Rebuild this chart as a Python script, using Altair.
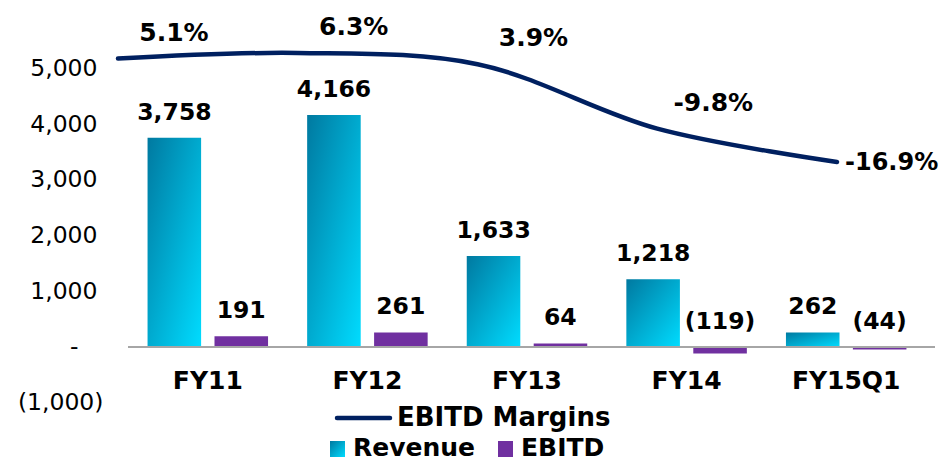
import altair as alt
import pandas as pd

# ---- data ----
categories = ["FY11", "FY12", "FY13", "FY14", "FY15Q1"]
revenue = [3758, 4166, 1633, 1218, 262]
ebitd = [191, 261, 64, -119, -44]
ebitd_margin = [5.1, 6.3, 3.9, -9.8, -16.9]
y_ticks = [-1000, 0, 1000, 2000, 3000, 4000, 5000]
series_names = ["Revenue", "EBITD"]
legend_line_label = "EBITD Margins"

# ---- styles ----
FONT = "DejaVu Sans"
NAVY = "#002060"
PURPLE = "#7030A0"
GRAD = {
    "gradient": "linear", "x1": 0, "y1": 0, "x2": 1, "y2": 1,
    "stops": [{"offset": 0, "color": "#0079A0"}, {"offset": 1, "color": "#00DCFF"}],
}
W, H = 811, 453
Y_DOMAIN = [-2047, 6086]
M_DOMAIN = [-80.51, 15.87]

df = pd.DataFrame({"cat": categories, "Revenue": revenue, "EBITD": ebitd,
                   "margin": ebitd_margin})
base = alt.Chart(df)


def y_scale():
    return alt.Scale(domain=Y_DOMAIN, nice=False, zero=False)


def x_scale():
    return alt.Scale(domain=categories, range=[0, 798],
                     paddingInner=0.245, paddingOuter=0.1225)


x_axis = alt.Axis(title=None, domain=False, ticks=False, tickSize=0, labelAngle=0,
                  labelFont=FONT, labelFontSize=25, labelFontWeight="bold",
                  labelColor="#000", labelPadding=33, labelBaseline="middle",
                  offset=-114)
y_axis = alt.Axis(
    title=None, values=y_ticks, domain=False, ticks=False, tickSize=0,
    grid=False, labelFont=FONT, labelFontSize=23.5, labelColor="#000",
    labelPadding={"expr": "datum.value < 0 ? 25 : (datum.value == 0 ? 50 : 31)"},
    labelExpr=("datum.value < 0 ? '(' + format(-datum.value, ',') + ')' : "
               "datum.value == 0 ? '-' : format(datum.value, ',')"),
)

folded = base.transform_fold(series_names, as_=["series", "value"])

bars = folded.mark_bar().encode(
    x=alt.X("cat:N", sort=categories, scale=x_scale(), axis=x_axis),
    xOffset=alt.XOffset("series:N", sort=series_names,
                        scale=alt.Scale(domain=series_names, paddingInner=0.2, paddingOuter=0)),
    y=alt.Y("value:Q", scale=y_scale(), axis=y_axis),
    fill=alt.when(alt.datum.series == "Revenue").then(alt.value(GRAD)).otherwise(alt.value(PURPLE)),
)

bar_text = folded.transform_calculate(
    label="datum.value < 0 ? '(' + format(-datum.value, ',') + ')' : format(datum.value, ',')",
    ypos="max(datum.value, 0)",
).mark_text(font=FONT, fontSize=23.5, fontWeight="bold", baseline="middle",
            dy=-25, color="#000").encode(
    x=alt.X("cat:N", sort=categories, scale=x_scale(), axis=None),
    xOffset=alt.XOffset("series:N", sort=series_names,
                        scale=alt.Scale(type="point", domain=series_names, padding=0.403)),
    y=alt.Y("ypos:Q", scale=y_scale(), axis=None),
    text="label:N",
)

zero_rule = alt.Chart(alt.Data(values=[{"v": 0}])).mark_rule(
    color="#A6A6A6", strokeWidth=2).encode(
    y=alt.Y("v:Q", scale=y_scale(), axis=None),
    x=alt.value(0), x2=alt.value(807),
)

# legend (manual)
leg_data = alt.Data(values=[{"label": legend_line_label}])
leg_line = alt.Chart(leg_data).mark_rule(color=NAVY, strokeWidth=4.5, strokeCap="round").encode(
    x=alt.value(209), x2=alt.value(262), y=alt.value(410))
leg_line_text = alt.Chart(leg_data).mark_text(
    align="left", baseline="middle", font=FONT, fontSize=26, fontWeight="bold", color="#000"
).encode(x=alt.value(269), y=alt.value(410), text="label:N")

rev_data = alt.Data(values=[{"label": series_names[0]}])
ebd_data = alt.Data(values=[{"label": series_names[1]}])
leg_rev_box = alt.Chart(rev_data).mark_rect(fill=GRAD).encode(
    x=alt.value(202), x2=alt.value(217), y=alt.value(433), y2=alt.value(449))
leg_rev_text = alt.Chart(rev_data).mark_text(
    align="left", baseline="middle", font=FONT, fontSize=25, fontWeight="bold", color="#000"
).encode(x=alt.value(225), y=alt.value(440), text="label:N")
leg_ebd_box = alt.Chart(ebd_data).mark_rect(fill=PURPLE).encode(
    x=alt.value(370), x2=alt.value(385), y=alt.value(433), y2=alt.value(449))
leg_ebd_text = alt.Chart(ebd_data).mark_text(
    align="left", baseline="middle", font=FONT, fontSize=25, fontWeight="bold", color="#000"
).encode(x=alt.value(393), y=alt.value(440), text="label:N")


# margin line on a secondary (hidden) axis
def x_line():
    return alt.X("cat:N", sort=categories,
                 scale=alt.Scale(type="point", domain=categories, range=[-10, 709], padding=0),
                 axis=None)


def y_line():
    return alt.Y("margin:Q", scale=alt.Scale(domain=M_DOMAIN, nice=False, zero=False),
                 axis=None)


line = base.mark_line(color=NAVY, strokeWidth=4.5, interpolate="catmull-rom",
                      strokeCap="round").encode(x=x_line(), y=y_line())
pct_expr = "(datum.margin < 0 ? '-' : '') + format(abs(datum.margin), '.1f') + '%'"
line_text = base.transform_filter(f"datum.cat != '{categories[-1]}'").transform_calculate(
    label=pct_expr).mark_text(font=FONT, fontSize=25, fontWeight="bold", baseline="middle",
                              dx=56, dy=-26, color="#000").encode(
    x=x_line(), y=y_line(), text="label:N")
line_text_last = base.transform_filter(f"datum.cat == '{categories[-1]}'").transform_calculate(
    label=pct_expr).mark_text(font=FONT, fontSize=24, fontWeight="bold", baseline="middle",
                              align="left", dx=8, dy=1, color="#000").encode(
    x=x_line(), y=y_line(), text="label:N")

chart = alt.layer(
    bars, zero_rule, bar_text, line, line_text, line_text_last,
    leg_line, leg_line_text, leg_rev_box, leg_rev_text, leg_ebd_box, leg_ebd_text,
).resolve_scale(
    x="independent", y="independent", xOffset="independent"
).properties(
    width=W, height=H, background="white",
    padding={"left": 120, "top": 0, "right": 0, "bottom": 0},
    autosize=alt.AutoSizeParams(type="none"),
).configure_view(stroke=None)

chart.save("out.html", embed_options={"renderer": "svg", "actions": False})
